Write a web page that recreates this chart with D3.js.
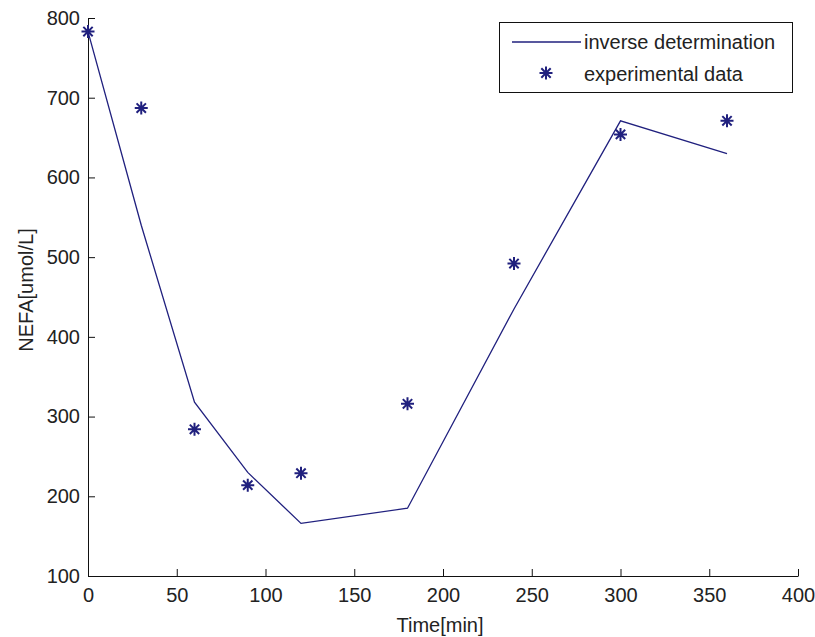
<html>
	<head>
		<script type="text/javascript" src="https://cdn.jsdelivr.net/npm/d3@7/dist/d3.min.js"></script>
		<style>
			body { margin: 0; background: #fff; }
			text { font-family: "Liberation Sans", Arial, sans-serif; fill: #222; }
		</style>
	</head>
	<body>
		<script type="text/javascript">

			// data
			var fitTimes = [0, 30, 60, 90, 120, 180, 240, 300, 360],
				fitValues = [783, 540, 318, 230, 166, 185, 435, 671, 630],
				expTimes = [0, 30, 60, 90, 120, 180, 240, 300, 360],
				expValues = [783, 687, 284, 214, 229, 316, 492, 654, 671],
				xTicks = [0, 50, 100, 150, 200, 250, 300, 350, 400],
				yTicks = [100, 200, 300, 400, 500, 600, 700, 800],
				legendLabels = ['inverse determination', 'experimental data'];

			var width = 815,
				height = 637,
				plotLeft = 88,
				plotRight = 798,
				plotTop = 18,
				plotBottom = 576,
				color = '#20207e';

			var x = d3.scaleLinear().domain([0, 400]).range([plotLeft, plotRight]),
				y = d3.scaleLinear().domain([100, 800]).range([plotBottom, plotTop]);

			var svg = d3.select('body').append('svg')
				.attr('width', width)
				.attr('height', height);

			// axes, ticks pointing inwards like matlab
			var xAxis = d3.axisBottom(x).tickValues(xTicks).tickSizeInner(-7).tickSizeOuter(0).tickPadding(12);
			var yAxis = d3.axisLeft(y).tickValues(yTicks).tickSizeInner(-7).tickSizeOuter(0).tickPadding(8);

			svg.append('g')
				.attr('transform', 'translate(0,' + plotBottom + ')')
				.call(xAxis);

			svg.append('g')
				.attr('transform', 'translate(' + plotLeft + ',0)')
				.call(yAxis);

			svg.selectAll('.domain, .tick line').attr('stroke', '#111');
			svg.selectAll('.tick text').style('font-size', '20px').attr('fill', '#222');

			// axis labels
			svg.append('text')
				.attr('x', (plotLeft + plotRight) / 2 - 3)
				.attr('y', 632)
				.attr('text-anchor', 'middle')
				.style('font-size', '20px')
				.text('Time[min]');

			svg.append('text')
				.attr('transform', 'translate(33,290) rotate(-90)')
				.attr('text-anchor', 'middle')
				.style('font-size', '20px')
				.text('NEFA[umol/L]');

			// model line
			var line = d3.line()
				.x(function(d){ return x(d[0]); })
				.y(function(d){ return y(d[1]); });

			svg.append('path')
				.datum(d3.zip(fitTimes, fitValues))
				.attr('d', line)
				.attr('fill', 'none')
				.attr('stroke', color)
				.attr('stroke-width', 1.3);

			// star marker like matlab '*'
			function star(s){
				var d = s * 0.72;
				return 'M' + (-s) + ',0L' + s + ',0M0,' + (-s) + 'L0,' + s +
					'M' + (-d) + ',' + (-d) + 'L' + d + ',' + d +
					'M' + (-d) + ',' + d + 'L' + d + ',' + (-d);
			}

			svg.selectAll('.star')
				.data(d3.zip(expTimes, expValues))
				.enter().append('path')
				.attr('class', 'star')
				.attr('transform', function(d){ return 'translate(' + x(d[0]) + ',' + y(d[1]) + ')'; })
				.attr('d', star(6.5))
				.attr('stroke', color)
				.attr('stroke-width', 2);

			// legend
			var legend = svg.append('g');

			legend.append('rect')
				.attr('x', 499.5)
				.attr('y', 22.5)
				.attr('width', 293)
				.attr('height', 70)
				.attr('fill', '#fff')
				.attr('stroke', '#111');

			legend.append('line')
				.attr('x1', 512).attr('x2', 581)
				.attr('y1', 42).attr('y2', 42)
				.attr('stroke', color)
				.attr('stroke-width', 1.3);

			legend.append('path')
				.attr('transform', 'translate(546,73)')
				.attr('d', star(6.5))
				.attr('stroke', color)
				.attr('stroke-width', 2);

			legend.selectAll('.label')
				.data(legendLabels)
				.enter().append('text')
				.attr('x', 584)
				.attr('y', function(d,i){ return 49 + i * 32; })
				.style('font-size', '20px')
				.text(function(d){ return d; });

		</script>
	</body>
</html>
